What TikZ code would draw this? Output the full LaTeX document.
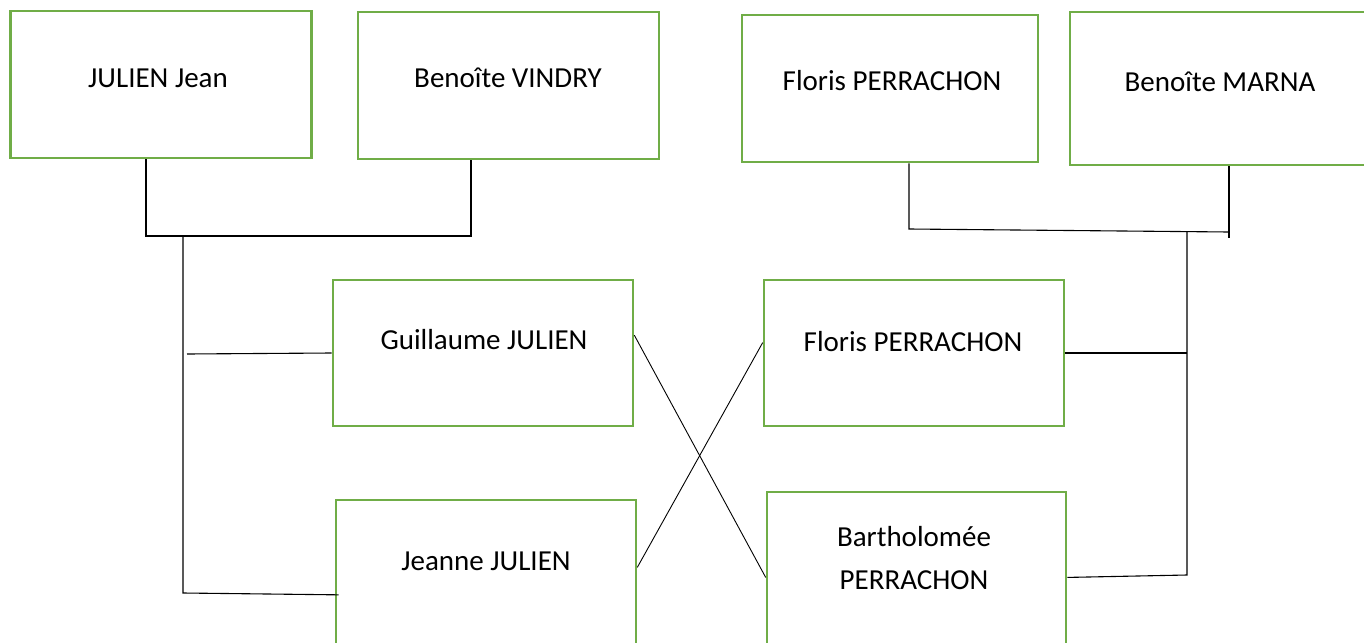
\documentclass[tikz,border=0pt]{standalone}
\usepackage{fontspec}
\setmainfont{Carlito}
\usetikzlibrary{calc}
\definecolor{boxgreen}{HTML}{70AD47}
\tikzset{
  person/.style={draw=boxgreen, line width=2.6pt, fill=white, rectangle, inner sep=0pt},
  pname/.style={font=\fontsize{29}{35}\selectfont, text=black, inner sep=0pt, anchor=base, align=center},
  link/.style={draw=black, line width=1.1pt},
}
\begin{document}
\begin{tikzpicture}[x=1pt, y=-1pt]
\useasboundingbox (0,0) rectangle (1364,642);
\clip (0,0) rectangle (1364,642);
% boxes
\node[person, minimum width=301pt, minimum height=147pt] (A) at (161,84.5) {};
\node[person, minimum width=301pt, minimum height=147pt] (B) at (508.5,85.5) {};
\node[person, minimum width=296pt, minimum height=147pt] (C) at (890,88.5) {};
\node[person, minimum width=296pt, minimum height=153pt] (D) at (1218,88.5) {};
\node[person, minimum width=300pt, minimum height=146pt] (E) at (483,353) {};
\node[person, minimum width=300pt, minimum height=146pt] (F) at (914,353) {};
\node[person, minimum width=300pt, minimum height=150pt] (G) at (486,575) {};
\node[person, minimum width=299pt, minimum height=158pt] (H) at (916.5,571) {};
% names
\node[pname] (tA) at (158,87) {JULIEN Jean};
\node[pname] (tB) at (508,87) {Benoîte VINDRY};
\node[pname] (tC) at (892,90) {Floris PERRACHON};
\node[pname] (tD) at (1220,92) {Benoîte MARNA};
\node[pname] (tE) at (484,349) {Guillaume JULIEN};
\node[pname] (tF) at (913,351) {Floris PERRACHON};
\node[pname] (tG) at (486,570) {Jeanne JULIEN};
\node[pname, font=\fontsize{29}{43}\selectfont] (tH) at (914,589) {Bartholomée\\PERRACHON};
% left family connectors
\coordinate (lj) at (146,236);
\coordinate (rj) at (471,236);
\coordinate (tl) at (183,236);
\coordinate (bl) at (183,593);
\draw[link] (A.south -| lj) -- (lj) -- (rj) -- (B.south -| rj);
\draw[link] (tl) -- (bl) -- ($(G.south west)!0.37!(G.north west)+(4,0)$);
\draw[link] (187,354) -- (E.west);
% right family connectors
\coordinate (lr) at (909,229);
\coordinate (rr) at (1229,232);
\coordinate (rre) at (1229,238);
\coordinate (tr) at (1187,232);
\coordinate (br) at (1187,575);
\draw[link] (C.south -| lr) -- (lr) -- (rr);
\draw[link] (D.south -| rr) -- (rre);
\draw[link] (tr) -- (br) -- ($(H.south east)!0.46!(H.north east)$);
\draw[link] (tr |- F.east) -- (F.east);
% crossing lines
\draw[link, line width=0.9pt] ($(E.north east)!0.38!(E.south east)$) -- ($(H.north west)!0.54!(H.south west)$);
\draw[link, line width=0.9pt] ($(F.north west)!0.43!(F.south west)$) -- ($(G.north east)!0.45!(G.south east)$);
\end{tikzpicture}
\end{document}
